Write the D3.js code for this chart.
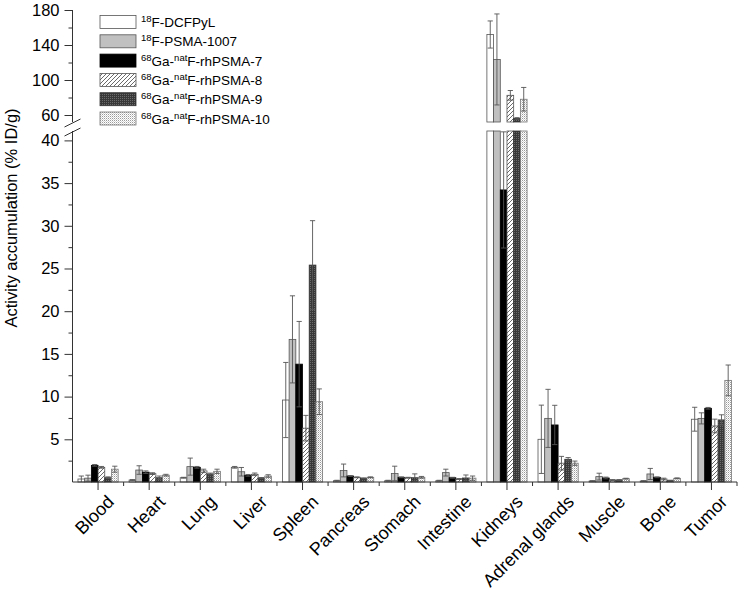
<!DOCTYPE html>
<html><head><meta charset="utf-8">
<script src="https://cdn.jsdelivr.net/npm/d3@7"></script>
<style>body{margin:0;background:#fff}svg{display:block}</style>
</head><body><div id="chart"></div>
<script>
const categories = ["Blood","Heart","Lung","Liver","Spleen","Pancreas","Stomach","Intestine","Kidneys","Adrenal glands","Muscle","Bone","Tumor"];
const dcfpyl      = [0.35, 0.23, 0.5, 1.72, 9.6, 0.15, 0.15, 0.15, 152, 5.0, 0.12, 0.12, 7.35];
const dcfpylErr   = [0.35, 0.05, 0.05, 0.1, 4.4, 0.05, 0.05, 0.05, 15.5, 4.0, 0.03, 0.03, 1.4];
const psma1007    = [0.45, 1.4, 1.8, 1.2, 16.7, 1.35, 1.0, 1.1, 123.5, 7.45, 0.63, 0.94, 7.45];
const psma1007Err = [0.35, 0.5, 1.0, 0.5, 5.1, 0.75, 0.85, 0.4, 52, 3.4, 0.4, 0.65, 0.65];
const rh7         = [1.95, 1.15, 1.72, 0.78, 13.8, 0.7, 0.55, 0.5, 34.2, 6.68, 0.47, 0.55, 8.63];
const rh7Err      = [0.1, 0.15, 0.1, 0.1, 5.0, 0.05, 0.05, 0.05, 6.8, 2.3, 0.1, 0.05, 0.1];
const rh8         = [1.72, 0.98, 1.3, 0.9, 6.3, 0.55, 0.5, 0.35, 82.5, 2.2, 0.23, 0.35, 6.56];
const rh8Err      = [0.1, 0.1, 0.2, 0.15, 1.5, 0.05, 0.05, 0.05, 5.5, 0.8, 0.05, 0.1, 0.8];
const rh9         = [0.5, 0.5, 0.94, 0.47, 25.4, 0.43, 0.5, 0.47, 56, 2.66, 0.23, 0.16, 7.27];
const rh9Err      = [0.1, 0.2, 0.1, 0.05, 5.2, 0.05, 0.45, 0.35, 1, 0.2, 0.05, 0.05, 0.6];
const rh10        = [1.5, 0.8, 1.25, 0.7, 9.4, 0.55, 0.55, 0.45, 78, 2.2, 0.39, 0.43, 11.9];
const rh10Err     = [0.35, 0.1, 0.25, 0.15, 1.5, 0.05, 0.1, 0.25, 13.5, 0.25, 0.05, 0.05, 1.8];

const seriesNames = [
  [["18","sup"],["F-DCFPyL",""]],
  [["18","sup"],["F-PSMA-1007",""]],
  [["68","sup"],["Ga-",""],["nat","sup"],["F-rhPSMA-7",""]],
  [["68","sup"],["Ga-",""],["nat","sup"],["F-rhPSMA-8",""]],
  [["68","sup"],["Ga-",""],["nat","sup"],["F-rhPSMA-9",""]],
  [["68","sup"],["Ga-",""],["nat","sup"],["F-rhPSMA-10",""]]
];
const seriesVals = [dcfpyl, psma1007, rh7, rh8, rh9, rh10];
const seriesErrs = [dcfpylErr, psma1007Err, rh7Err, rh8Err, rh9Err, rh10Err];
const lowerTicks = [5,10,15,20,25,30,35,40];
const lowerMinor = [2.5,7.5,12.5,17.5,22.5,27.5,32.5,37.5];
const upperTicks = [60,100,140,180];
const upperMinor = [80,120,160];

const W = 740, H = 590;
const svg = d3.select("#chart").append("svg").attr("width", W).attr("height", H)
  .style("font-family", "'Liberation Sans', Arial, sans-serif");

const defs = svg.append("defs");
const hatch = defs.append("pattern").attr("id","hatch").attr("patternUnits","userSpaceOnUse").attr("width",4).attr("height",4);
hatch.append("rect").attr("width",4).attr("height",4).attr("fill","#fff");
hatch.append("path").attr("d","M-1,1 l2,-2 M0,4 l4,-4 M3,5 l2,-2").attr("stroke","#444").attr("stroke-width",0.8);
const dark = defs.append("pattern").attr("id","dark").attr("patternUnits","userSpaceOnUse").attr("width",2).attr("height",2);
dark.append("rect").attr("width",2).attr("height",2).attr("fill","#383838");
dark.append("rect").attr("width",1).attr("height",1).attr("fill","#6a6a6a");
const dots = defs.append("pattern").attr("id","dots").attr("patternUnits","userSpaceOnUse").attr("width",2).attr("height",2);
dots.append("rect").attr("width",2).attr("height",2).attr("fill","#fff");
dots.append("rect").attr("width",1).attr("height",1).attr("fill","#9a9a9a");
dots.append("rect").attr("x",1).attr("y",1).attr("width",1).attr("height",1).attr("fill","#d4d4d4");

const fills = ["#ffffff","#c0c0c0","#000000","url(#hatch)","url(#dark)","url(#dots)"];
const strokes = ["#555","#555","#000","#555","#333","#777"];

const x0 = 72.5, x1 = 737, yBase = 482;
const LOW_MAX = 41.1, HIGH_MIN = 52;
const yLow = d3.scaleLinear().domain([0, LOW_MAX]).range([yBase, 131]);
const yHigh = d3.scaleLinear().domain([HIGH_MIN, 180]).range([122, 10]);

const xBand = d3.scaleBand().domain(categories).range([x0, x1]).paddingInner(0.214).paddingOuter(0.107);
const xSub = d3.scaleBand().domain(d3.range(6)).range([0, xBand.bandwidth()]);

// bars
const gBars = svg.append("g");
seriesVals.forEach((vals, s) => {
  vals.forEach((v, i) => {
    const bx = xBand(categories[i]) + xSub(s), bw = xSub.bandwidth();
    const lowTop = Math.min(v, LOW_MAX);
    gBars.append("rect").attr("x", bx).attr("y", yLow(lowTop)).attr("width", bw)
      .attr("height", yLow(0) - yLow(lowTop)).attr("fill", fills[s]).attr("stroke", strokes[s]).attr("stroke-width", 0.8);
    if (v > HIGH_MIN) {
      gBars.append("rect").attr("x", bx).attr("y", yHigh(v)).attr("width", bw)
        .attr("height", yHigh(HIGH_MIN) - yHigh(v)).attr("fill", fills[s]).attr("stroke", strokes[s]).attr("stroke-width", 0.8);
    }
  });
});

// error bars
const gErr = svg.append("g").attr("stroke", "#555").attr("stroke-width", 0.9);
function errSeg(cx, a, b, scale, lo, hi, cw) {
  const s0 = Math.max(a, lo), s1 = Math.min(b, hi);
  if (s1 <= s0) return;
  gErr.append("line").attr("x1", cx).attr("x2", cx).attr("y1", scale(s0)).attr("y2", scale(s1));
  if (a >= lo && a > 0) gErr.append("line").attr("x1", cx - cw).attr("x2", cx + cw).attr("y1", scale(a)).attr("y2", scale(a));
  if (b <= hi + 0.01) gErr.append("line").attr("x1", cx - cw).attr("x2", cx + cw).attr("y1", scale(Math.min(b, hi))).attr("y2", scale(Math.min(b, hi)));
}
seriesVals.forEach((vals, s) => {
  vals.forEach((v, i) => {
    const e = seriesErrs[s][i];
    const cx = xBand(categories[i]) + xSub(s) + xSub.bandwidth() / 2;
    const a = v - e, b = v + e, cw = 2.6;
    errSeg(cx, a, b, yLow, 0, LOW_MAX, cw);
    errSeg(cx, a, b, yHigh, HIGH_MIN, 180, cw);
  });
});

// axes
const axisColor = "#333";
function styleAxis(g, fs) {
  g.select(".domain").remove();
  g.selectAll("line").attr("stroke", axisColor);
  g.selectAll("text").attr("fill", "#000").style("font-size", fs + "px");
}
const gyL = svg.append("g").attr("transform", `translate(${x0},0)`)
  .call(d3.axisLeft(yLow).tickValues(lowerTicks).tickSize(8).tickPadding(5).tickFormat(d3.format("d")));
styleAxis(gyL, 16.5);
const gyLm = svg.append("g").attr("transform", `translate(${x0},0)`)
  .call(d3.axisLeft(yLow).tickValues(lowerMinor).tickSize(4).tickFormat(""));
styleAxis(gyLm, 16.5);
const gyH = svg.append("g").attr("transform", `translate(${x0},0)`)
  .call(d3.axisLeft(yHigh).tickValues(upperTicks).tickSize(8).tickPadding(5).tickFormat(d3.format("d")));
styleAxis(gyH, 16.5);
const gyHm = svg.append("g").attr("transform", `translate(${x0},0)`)
  .call(d3.axisLeft(yHigh).tickValues(upperMinor).tickSize(4).tickFormat(""));
styleAxis(gyHm, 16.5);

svg.append("line").attr("x1", x0).attr("x2", x0).attr("y1", yBase).attr("y2", yLow(LOW_MAX)).attr("stroke", axisColor);
svg.append("line").attr("x1", x0).attr("x2", x0).attr("y1", yHigh(HIGH_MIN)).attr("y2", yHigh(180)).attr("stroke", axisColor);
// break marks
[yHigh(HIGH_MIN) + 1, yLow(LOW_MAX) + 1].forEach(yy => {
  svg.append("line").attr("x1", x0 - 8).attr("x2", x0 + 8).attr("y1", yy + 4).attr("y2", yy - 4)
    .attr("stroke", axisColor).attr("stroke-width", 1);
});

// x axis
svg.append("line").attr("x1", x0).attr("x2", x1).attr("y1", yBase).attr("y2", yBase).attr("stroke", axisColor);
const gx = svg.append("g").attr("transform", `translate(0,${yBase})`);
categories.forEach((c, i) => {
  const cx = xBand(c) + xBand.bandwidth() / 2;
  gx.append("line").attr("x1", cx).attr("x2", cx).attr("y1", 0).attr("y2", 8).attr("stroke", axisColor);
  gx.append("text").attr("transform", `translate(${cx + 17},${21}) rotate(-45)`)
    .attr("text-anchor", "end").style("font-size", "18px").attr("fill", "#000").text(c);
});
d3.range(1, categories.length + 1).forEach(k => {
  const bx = x0 + k * xBand.step();
  gx.append("line").attr("x1", bx).attr("x2", bx).attr("y1", 0).attr("y2", 4).attr("stroke", axisColor);
});

// y title
svg.append("text").attr("transform", `translate(17,218) rotate(-90)`).attr("text-anchor", "middle")
  .style("font-size", "16.5px").attr("fill", "#000").text("Activity accumulation (% ID/g)");

// legend
const lg = svg.append("g");
seriesNames.forEach((parts, s) => {
  const cy = 22 + s * 19.3;
  lg.append("rect").attr("x", 100).attr("y", cy - 6.5).attr("width", 36).attr("height", 13)
    .attr("fill", fills[s]).attr("stroke", strokes[s]).attr("stroke-width", 0.8);
  const t = lg.append("text").attr("x", 141).attr("y", cy + 5).style("font-size", "13.5px").attr("fill", "#000");
  parts.forEach(([txt, kind]) => {
    if (kind === "sup") t.append("tspan").attr("dy", "-5").style("font-size", "9.5px").text(txt);
    else t.append("tspan").attr("dy", "5").text(txt);
  });
});
</script></body></html>
